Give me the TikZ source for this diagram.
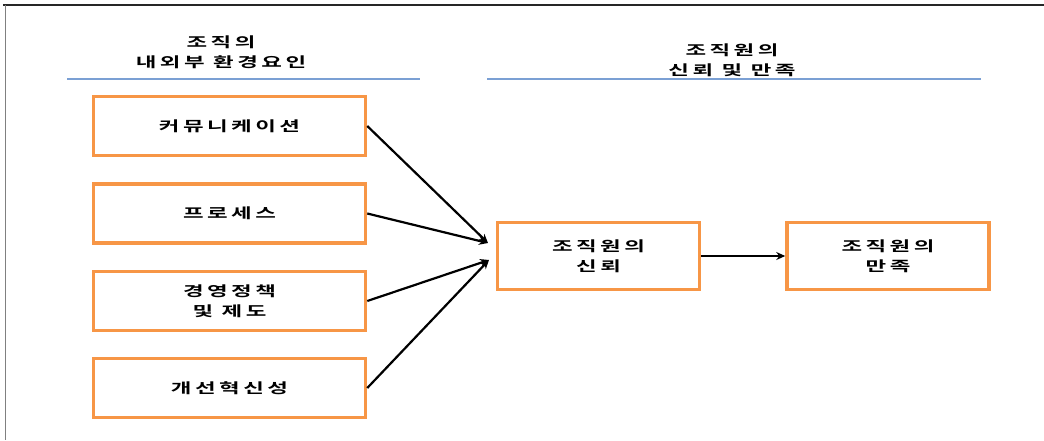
\documentclass[tikz,border=0pt]{standalone}
\usepackage{fontspec}
\usetikzlibrary{arrows.meta}
\newfontfamily\kr[FakeStretch=1.6,LetterSpace=25,BoldFont={Noto Sans CJK KR Bold}]{Noto Sans CJK KR}
\definecolor{boxorange}{HTML}{F79646}
\definecolor{ruleblue}{HTML}{7BA0D4}
\definecolor{framegray}{HTML}{808080}
\begin{document}
\begin{tikzpicture}[x=1pt,y=-1pt,
  lbl/.style={font=\kr\bfseries\fontsize{14}{20}\selectfont, align=center, text=black},
  factor/.style={lbl, draw=boxorange, line width=3.5pt, minimum width=272pt, minimum height=59pt, inner sep=0pt},
  outcome/.style={lbl, draw=boxorange, line width=3.5pt, minimum width=202pt, minimum height=67pt, inner sep=0pt},
  link/.style={line width=2.2pt, -{Stealth[length=9pt,width=8pt]}},
  header/.style={line width=2pt, draw=ruleblue}]
\useasboundingbox (0,0) rectangle (1044,440);
% frame
\draw[line width=1.2pt, black!85] (3,5) -- (1044,5);
\draw[line width=1.5pt, framegray] (5.5,5) -- (5.5,440);
% headers
\node[lbl] (h1) at (221,52) {조직의\\내외부 환경요인};
\node[lbl] (h2) at (732,60) {조직원의\\신뢰 및 만족};
\draw[header] (67,79) -- (420,79);
\draw[header] (487,79) -- (981,79);
% factor boxes
\node[factor] (b1) at (229.5,126) {커뮤니케이션};
\node[factor] (b2) at (229.5,213.5) {프로세스};
\node[factor] (b3) at (229.5,301) {경영정책\\및 제도};
\node[factor] (b4) at (229.5,388) {개선혁신성};
% outcome boxes
\node[outcome] (t) at (598.5,256) {조직원의\\신뢰};
\node[outcome] (s) at (888,256) {조직원의\\만족};
% arrow end points
\coordinate (e1) at (488,243);
\coordinate (e2) at (489,260);
\draw[link] (b1.east) -- (e1);
\draw[link] (b2.east) -- (e1);
\draw[link] (b3.east) -- (e2);
\draw[link] (b4.east) -- (e2);
\draw[link] (t.east) -- (s.west);
\end{tikzpicture}
\end{document}
